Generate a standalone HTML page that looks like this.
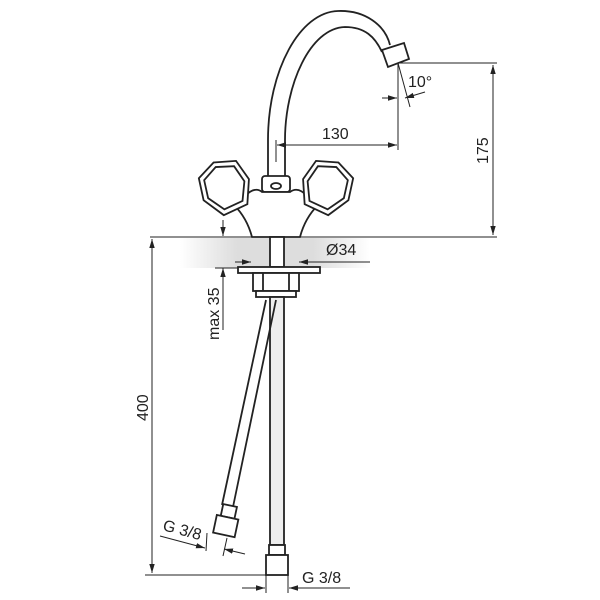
<!DOCTYPE html>
<html><head><style>body{margin:0;background:#fff}svg{display:block}text{font-family:"Liberation Sans",sans-serif;font-size:16px;fill:#222}</style></head>
<body>
<svg width="600" height="600" viewBox="0 0 600 600" xmlns="http://www.w3.org/2000/svg">
<defs>
<linearGradient id="g" x1="0" y1="0" x2="1" y2="0"><stop offset="0" stop-color="#fff"/><stop offset="0.3" stop-color="#ddd"/><stop offset="0.7" stop-color="#ddd"/><stop offset="1" stop-color="#fff"/></linearGradient>
<marker id="a" viewBox="0 0 10 10" refX="10" refY="5" markerWidth="9" markerHeight="9" orient="auto-start-reverse"><path d="M0,2 L10,5 L0,8z" fill="#222"/></marker>
</defs>
<rect x="180" y="238" width="190" height="30" fill="url(#g)"/>
<g fill="none" stroke="#222" stroke-width="1.8">
<path d="M268,176 L268,140 C268,70 300,12 338,11 C365,10 385,25 390,45" fill="#fff"/>
<path d="M285,176 L285,140 C285,85 310,28 345,27 C365,27 375,37 382,52"/>
<path d="M382,50 L404,43 L409,59 L388,67 Z" fill="#fff"/>
<rect x="262" y="176" width="28" height="16" rx="3" fill="#fff"/>
<ellipse cx="276" cy="186" rx="5" ry="3"/>
<path d="M245,196 Q255,186 262,192 L290,192 Q298,186 307,196 L318,205 Q305,218 300,237 L252,237 Q247,218 234,205 Z" fill="#fff"/>
<g transform="rotate(-25 225 187)">
<path d="M205,168 L225,160 L246,168 L250,190 L238,212 L212,212 L200,190 Z" fill="#fff"/>
<path d="M209,172 L225,165 L242,172 L245,190 L235,207 L215,207 L205,190 Z"/>
</g>
<g transform="rotate(25 327 187)">
<path d="M347,168 L327,160 L306,168 L302,190 L314,212 L340,212 L352,190 Z" fill="#fff"/>
<path d="M343,172 L327,165 L310,172 L307,190 L317,207 L337,207 L347,190 Z"/>
</g>
<rect x="270" y="237" width="14" height="30" fill="#fff"/>
<rect x="238" y="267" width="82" height="6" fill="#fff"/>
<rect x="253" y="273" width="46" height="18" fill="#fff"/>
<line x1="263" y1="273" x2="263" y2="291"/><line x1="289" y1="273" x2="289" y2="291"/>
<rect x="256" y="291" width="40" height="6" fill="#fff"/>
<rect x="270" y="297" width="14" height="248" fill="#eee"/>
<path d="M266,300 L222,505 M276,300 L233,507" />
<rect x="269" y="545" width="16" height="10" fill="#fff"/>
<rect x="266" y="555" width="22" height="20" fill="#fff"/>
<g transform="rotate(12 226 520)"><rect x="220" y="505" width="14" height="12" fill="#fff"/><rect x="216" y="517" width="22" height="18" fill="#fff"/></g>
</g>
<g stroke="#222" stroke-width="1" fill="none">
<line x1="150" y1="237" x2="497" y2="237"/>
<line x1="400" y1="63" x2="497" y2="63"/>
<line x1="493" y1="65" x2="493" y2="235" marker-start="url(#a)" marker-end="url(#a)"/>
<line x1="398" y1="63" x2="398" y2="150"/>
<line x1="276" y1="140" x2="276" y2="162"/>
<line x1="277" y1="145" x2="397" y2="145" marker-start="url(#a)" marker-end="url(#a)"/>
<line x1="398" y1="63" x2="410" y2="107"/>
<line x1="382" y1="98" x2="397" y2="98" marker-end="url(#a)"/>
<line x1="425" y1="92" x2="405" y2="98" marker-end="url(#a)"/>
<line x1="235" y1="262" x2="251" y2="262" marker-end="url(#a)"/>
<line x1="370" y1="262" x2="299" y2="262" marker-end="url(#a)"/>
<line x1="223" y1="220" x2="223" y2="236" marker-end="url(#a)"/>
<line x1="223" y1="330" x2="223" y2="268" marker-end="url(#a)"/>
<line x1="215" y1="268" x2="238" y2="268"/>
<line x1="152" y1="239" x2="152" y2="573" marker-start="url(#a)" marker-end="url(#a)"/>
<line x1="145" y1="575" x2="268" y2="575"/>
<line x1="266" y1="575" x2="266" y2="593"/><line x1="288" y1="575" x2="288" y2="593"/>
<line x1="242" y1="588" x2="265" y2="588" marker-end="url(#a)"/>
<line x1="350" y1="588" x2="289" y2="588" marker-end="url(#a)"/>
<line x1="207" y1="533" x2="206" y2="551"/><line x1="227" y1="538" x2="223" y2="556"/>
<line x1="160" y1="536" x2="205" y2="548" marker-end="url(#a)"/>
<line x1="245" y1="554" x2="224" y2="549" marker-end="url(#a)"/>
</g>
<text x="322" y="139">130</text>
<text x="408" y="87">10°</text>
<text x="326" y="255">Ø34</text>
<text transform="translate(488,164) rotate(-90)">175</text>
<text transform="translate(219,340) rotate(-90)">max 35</text>
<text transform="translate(148,421) rotate(-90)">400</text>
<text transform="translate(162,530) rotate(15)">G 3/8</text>
<text x="302" y="583">G 3/8</text>
</svg>
</body></html>
